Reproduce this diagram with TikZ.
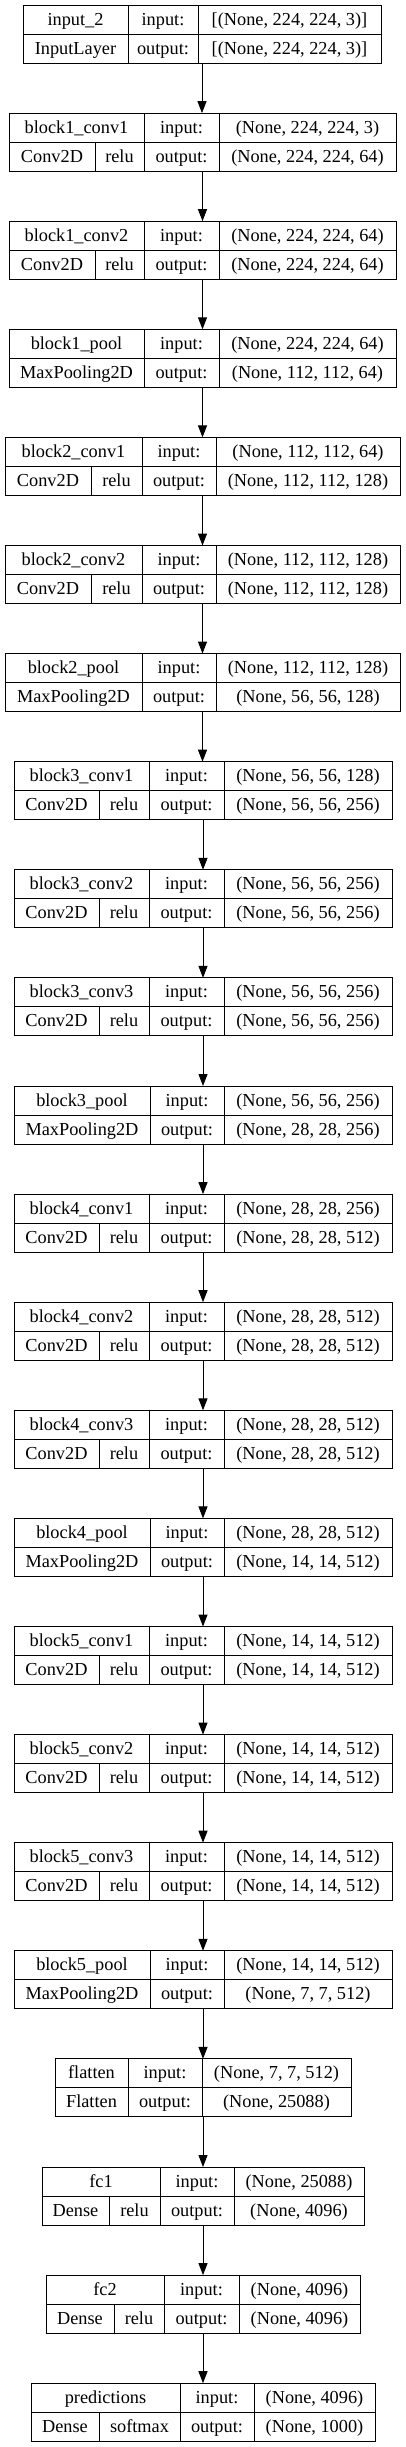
\documentclass[tikz,border=0pt]{standalone}
\usepackage{fontspec}
\setmainfont{Liberation Serif}
\usetikzlibrary{arrows.meta}

\begin{document}
\begin{tikzpicture}[x=1pt,y=-1pt,
    layer/.style={draw,line width=1pt,inner sep=0pt,outer sep=0pt,minimum height=58pt,anchor=north west},
    cell/.style={anchor=base,inner sep=0pt,font=\fontsize{18.3}{22}\selectfont},
    grid/.style={line width=1pt},
    flow/.style={line width=1pt,-{Triangle[length=12pt,width=9pt]}}]
  \useasboundingbox (0,0) rectangle (406,2447);
  \foreach \i/\nm/\lft/\rgt/\da/\db/\dc/\kind/\act/\shin/\shout in {
    0/input\_2/23/381/128/198/0/InputLayer/{}/{[(None, 224, 224, 3)]}/{[(None, 224, 224, 3)]},
    1/block1\_conv1/9/396/144/219/95/Conv2D/relu/{(None, 224, 224, 3)}/{(None, 224, 224, 64)},
    2/block1\_conv2/9/396/144/219/95/Conv2D/relu/{(None, 224, 224, 64)}/{(None, 224, 224, 64)},
    3/block1\_pool/9/396/144/219/0/MaxPooling2D/{}/{(None, 224, 224, 64)}/{(None, 112, 112, 64)},
    4/block2\_conv1/5/400/142/216/91/Conv2D/relu/{(None, 112, 112, 64)}/{(None, 112, 112, 128)},
    5/block2\_conv2/5/400/142/216/91/Conv2D/relu/{(None, 112, 112, 128)}/{(None, 112, 112, 128)},
    6/block2\_pool/5/400/142/216/0/MaxPooling2D/{}/{(None, 112, 112, 128)}/{(None, 56, 56, 128)},
    7/block3\_conv1/14/392/149/224/99/Conv2D/relu/{(None, 56, 56, 128)}/{(None, 56, 56, 256)},
    8/block3\_conv2/14/392/149/224/99/Conv2D/relu/{(None, 56, 56, 256)}/{(None, 56, 56, 256)},
    9/block3\_conv3/14/392/149/224/99/Conv2D/relu/{(None, 56, 56, 256)}/{(None, 56, 56, 256)},
    10/block3\_pool/14/392/150/224/0/MaxPooling2D/{}/{(None, 56, 56, 256)}/{(None, 28, 28, 256)},
    11/block4\_conv1/14/392/149/224/99/Conv2D/relu/{(None, 28, 28, 256)}/{(None, 28, 28, 512)},
    12/block4\_conv2/14/392/149/224/99/Conv2D/relu/{(None, 28, 28, 512)}/{(None, 28, 28, 512)},
    13/block4\_conv3/14/392/149/224/99/Conv2D/relu/{(None, 28, 28, 512)}/{(None, 28, 28, 512)},
    14/block4\_pool/14/392/150/224/0/MaxPooling2D/{}/{(None, 28, 28, 512)}/{(None, 14, 14, 512)},
    15/block5\_conv1/14/392/149/224/99/Conv2D/relu/{(None, 14, 14, 512)}/{(None, 14, 14, 512)},
    16/block5\_conv2/14/392/149/224/99/Conv2D/relu/{(None, 14, 14, 512)}/{(None, 14, 14, 512)},
    17/block5\_conv3/14/392/149/224/99/Conv2D/relu/{(None, 14, 14, 512)}/{(None, 14, 14, 512)},
    18/block5\_pool/14/392/150/224/0/MaxPooling2D/{}/{(None, 14, 14, 512)}/{(None, 7, 7, 512)},
    19/flatten/55/351/128/202/0/Flatten/{}/{(None, 7, 7, 512)}/{(None, 25088)},
    20/fc1/42/364/160/234/109/Dense/relu/{(None, 25088)}/{(None, 4096)},
    21/fc2/46/360/164/239/114/Dense/relu/{(None, 4096)}/{(None, 4096)},
    22/predictions/31/375/180/254/99/Dense/softmax/{(None, 4096)}/{(None, 1000)}}{
    \pgfmathsetmacro\ytop{5+\i*108.1}
    \node[layer,minimum width={\rgt-\lft}] (l\i) at (\lft,\ytop) {};
    \draw[grid] (\lft,{\ytop+29}) -- (\rgt,{\ytop+29})
      (\da,\ytop) -- (\da,{\ytop+58}) (\db,\ytop) -- (\db,{\ytop+58});
    \node[cell] (in\i) at ({(\da+\db)/2},{\ytop+20}) {input:};
    \node[cell] (si\i) at ({(\db+\rgt)/2},{\ytop+20}) {\shin};
    \node[cell] (out\i) at ({(\da+\db)/2},{\ytop+49}) {output:};
    \node[cell] (so\i) at ({(\db+\rgt)/2},{\ytop+49}) {\shout};
    \node[cell] (n\i) at ({(\lft+\da)/2},{\ytop+20}) {\nm};
    \ifnum\dc>0
      \draw[grid] (\dc,{\ytop+29}) -- (\dc,{\ytop+58});
      \node[cell] (k\i) at ({(\lft+\dc)/2},{\ytop+49}) {\kind};
      \node[cell] (a\i) at ({(\dc+\da)/2},{\ytop+49}) {\act};
    \else
      \node[cell] (k\i) at ({(\lft+\da)/2},{\ytop+49}) {\kind};
    \fi
  }
  \foreach \i [remember=\i as \j (initially 0)] in {1,...,22}
    \draw[flow] (l\j.south) -- (l\j.south |- l\i.north);
\end{tikzpicture}
\end{document}
